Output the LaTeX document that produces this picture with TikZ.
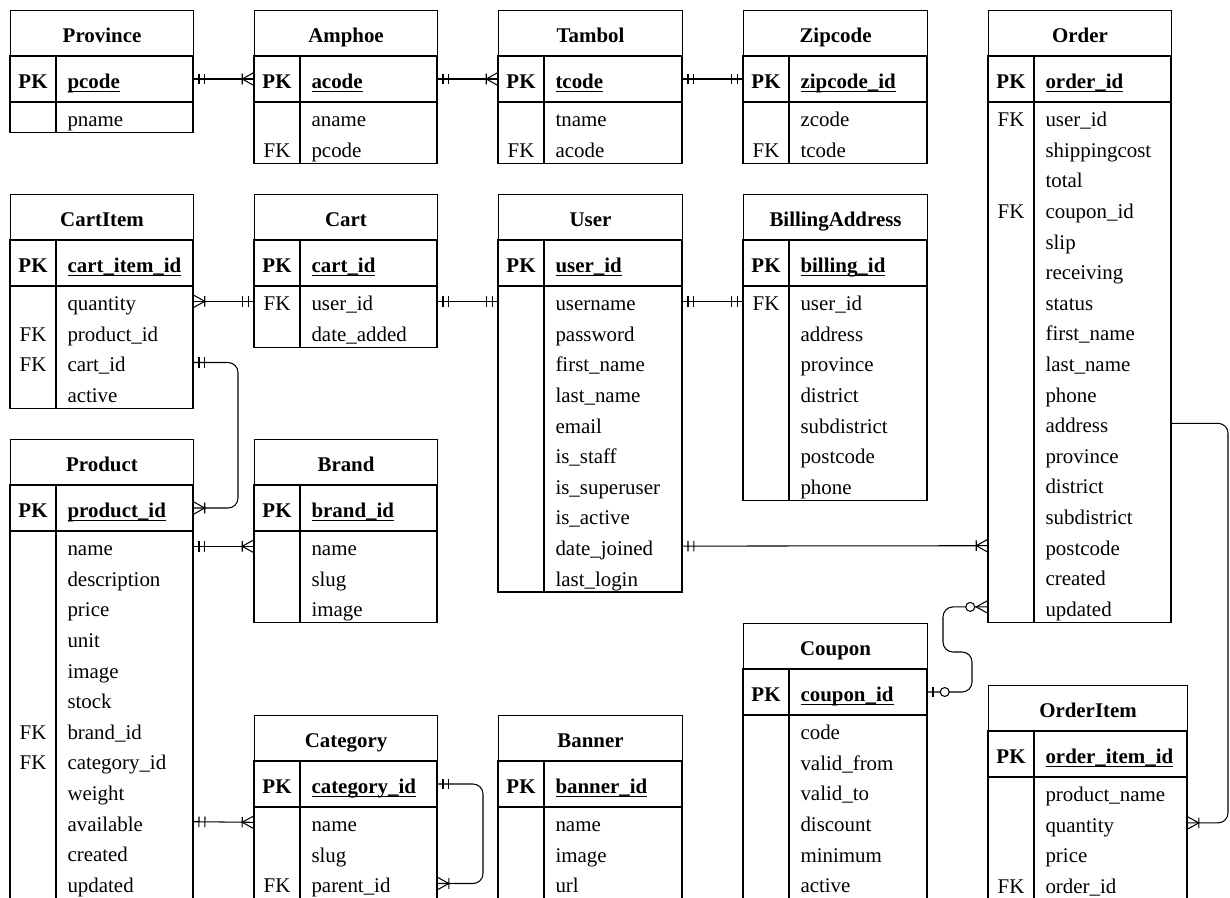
\documentclass[tikz,border=0pt]{standalone}
\usepackage{fontspec}
\setmainfont{Liberation Serif}
\usetikzlibrary{arrows.meta}

% ER line ends
\pgfdeclarearrow{
  name=ERmand,
  setup code={\pgfarrowssettipend{0pt}\pgfarrowssetlineend{0pt}\pgfarrowssetbackend{-7.5pt}},
  drawing code={\pgfsetlinewidth{0.6pt}
    \pgfpathmoveto{\pgfqpoint{-3.4pt}{-3pt}}\pgfpathlineto{\pgfqpoint{-3.4pt}{3pt}}
    \pgfpathmoveto{\pgfqpoint{-6.8pt}{-3pt}}\pgfpathlineto{\pgfqpoint{-6.8pt}{3pt}}
    \pgfusepathqstroke}
}
\pgfdeclarearrow{
  name=ERmany,
  setup code={\pgfarrowssettipend{0pt}\pgfarrowssetlineend{0pt}\pgfarrowssetbackend{-7.5pt}},
  drawing code={\pgfsetlinewidth{0.6pt}
    \pgfpathmoveto{\pgfqpoint{0pt}{3.7pt}}\pgfpathlineto{\pgfqpoint{-6.7pt}{0pt}}\pgfpathlineto{\pgfqpoint{0pt}{-3.7pt}}
    \pgfpathmoveto{\pgfqpoint{-6.7pt}{-3pt}}\pgfpathlineto{\pgfqpoint{-6.7pt}{3pt}}
    \pgfusepathqstroke}
}
\pgfdeclarearrow{
  name=ERzmany,
  setup code={\pgfarrowssettipend{0pt}\pgfarrowssetlineend{0pt}\pgfarrowssetbackend{-13pt}},
  drawing code={\pgfsetlinewidth{0.6pt}
    \pgfpathmoveto{\pgfqpoint{0pt}{3.7pt}}\pgfpathlineto{\pgfqpoint{-6.7pt}{0pt}}\pgfpathlineto{\pgfqpoint{0pt}{-3.7pt}}
    \pgfusepathqstroke
    \pgfpathcircle{\pgfqpoint{-10.1pt}{0pt}}{2.55pt}
    \pgfsetfillcolor{white}\pgfusepathqfillstroke}
}
\pgfdeclarearrow{
  name=ERzone,
  setup code={\pgfarrowssettipend{0pt}\pgfarrowssetlineend{0pt}\pgfarrowssetbackend{-13pt}},
  drawing code={\pgfsetlinewidth{0.6pt}
    \pgfpathmoveto{\pgfqpoint{-3.4pt}{-3pt}}\pgfpathlineto{\pgfqpoint{-3.4pt}{3pt}}
    \pgfusepathqstroke
    \pgfpathcircle{\pgfqpoint{-10.1pt}{0pt}}{2.55pt}
    \pgfsetfillcolor{white}\pgfusepathqfillstroke}
}

% table: name, x, y, width, title, key field, rows
\newcommand\ertable[7]{%
  \node[tblhead, minimum width=#4*0.02cm] (#1) at (#2,#3) {\bfseries #5};
  \node[tblrow, draw, minimum width=#4*0.02cm, minimum height=0.92cm] (#1-0) at (#2,{#3+46}) {};
  \draw (#2+46,{#3+46}) -- (#2+46,{#3+92});
  \node[keytxt] at (#2+23,{#3+78.4}) {\bfseries PK};
  \node[fldtxt] at (#2+57,{#3+78.4}) {\bfseries\underline{\smash{#6}}};
  \foreach \keyname/\fieldname [count=\rw] in {#7} {
    \node[tblrow, minimum width=#4*0.02cm, minimum height=0.612cm] (#1-\rw) at (#2,{#3+92+(\rw-1)*30.6}) {};
    \node[keytxt] at (#2+23,{#3+92+(\rw-0.5)*30.6+9.4}) {\keyname};
    \node[fldtxt] at (#2+57,{#3+92+(\rw-0.5)*30.6+9.4}) {\fieldname};
    \xdef\lastrow{\rw}
  }
  \draw (#1-0.south west) rectangle (#1-\lastrow.south east);
  \draw (#2+46,{#3+92}) -- (#2+46,{#3+92+\lastrow*30.6});
}

\begin{document}
\begin{tikzpicture}[x=0.02cm, y=-0.02cm, line width=0.6pt,
  font=\fontsize{11.9pt}{14pt}\selectfont,
  tblhead/.style={draw, anchor=north west, inner sep=0pt, minimum height=0.92cm, text height=10.7pt, text depth=0pt},
  tblrow/.style={anchor=north west, inner sep=0pt, outer sep=0pt},
  keytxt/.style={anchor=base, inner sep=0pt},
  fldtxt/.style={anchor=base west, inner sep=0pt}]
	\useasboundingbox (0,0) rectangle (1230,897);
	\clip (0,0) rectangle (1230,897);
	% first row
	\ertable{province}{10}{10}{183}{Province}{pcode}{/pname}
	\ertable{amphoe}{254}{10}{183}{Amphoe}{acode}{/aname, FK/pcode}
	\ertable{tambol}{498}{10}{184}{Tambol}{tcode}{/tname, FK/acode}
	\ertable{zipcode}{743}{10}{184}{Zipcode}{zipcode\_id}{/zcode, FK/tcode}
	\ertable{order}{988}{10}{183}{Order}{order\_id}{FK/user\_id, /shippingcost, /total, FK/coupon\_id, /slip, /receiving, /status, /first\_name, /last\_name, /phone, /address, /province, /district, /subdistrict, /postcode, /created, /updated}
	% second row
	\ertable{cartitem}{10}{194}{183}{CartItem}{cart\_item\_id}{/quantity, FK/product\_id, FK/cart\_id, /active}
	\ertable{cart}{254}{194}{183}{Cart}{cart\_id}{FK/user\_id, /date\_added}
	\ertable{user}{498}{194}{184}{User}{user\_id}{/username, /password, /first\_name, /last\_name, /email, /is\_staff, /is\_superuser, /is\_active, /date\_joined, /last\_login}
	\ertable{billing}{743}{194}{184}{BillingAddress}{billing\_id}{FK/user\_id, /address, /province, /district, /subdistrict, /postcode, /phone}
	% lower tables
	\ertable{product}{10}{439}{183}{Product}{product\_id}{/name, /description, /price, /unit, /image, /stock, FK/brand\_id, FK/category\_id, /weight, /available, /created, /updated}
	\ertable{brand}{254}{439}{183}{Brand}{brand\_id}{/name, /slug, /image}
	\ertable{category}{254}{715}{183}{Category}{category\_id}{/name, /slug, FK/parent\_id}
	\ertable{banner}{498}{715}{184}{Banner}{banner\_id}{/name, /image, /url}
	\ertable{coupon}{743}{623}{184}{Coupon}{coupon\_id}{/code, /valid\_from, /valid\_to, /discount, /minimum, /active}
	\ertable{orderitem}{988}{685}{199}{OrderItem}{order\_item\_id}{/product\_name, /quantity, /price, FK/order\_id}
	% relations
	\draw[ERmand-ERmany] (province-0.east) -- (amphoe-0.west);
	\draw[ERmand-ERmany] (amphoe-0.east) -- (tambol-0.west);
	\draw[ERmand-ERmand] (tambol-0.east) -- (zipcode-0.west);
	\draw[ERmany-ERmand] (cartitem-1.east) -- (cart-1.west);
	\draw[ERmand-ERmand] (cart-1.east) -- (user-1.west);
	\draw[ERmand-ERmand] (user-1.east) -- (billing-1.west);
	\draw[ERmand-ERmany] (user-9.east) -- (order-15.west);
	\draw[ERmand-ERmany, rounded corners=0.2cm] (cartitem-3.east) -- ++(45,0) |- (product-0.east);
	\draw[ERmand-ERmany] (product-1.east) -- (brand-1.west);
	\draw[ERmand-ERmany] (product-10.east) -- (category-1.west);
	\draw[ERmand-ERmany, rounded corners=0.2cm] (category-0.east) -- ++(46,0) |- (category-3.east);
	\draw[ERzone-ERzmany, rounded corners=0.2cm] (coupon-0.east) -- ++(45,0) -- ++(0,-40) -- ++(-29,0) |- (order-17.west);
	\draw[-ERmany, rounded corners=0.2cm] (order-11.east) -- ++(57,0) |- (orderitem-2.east);
\end{tikzpicture}
\end{document}
